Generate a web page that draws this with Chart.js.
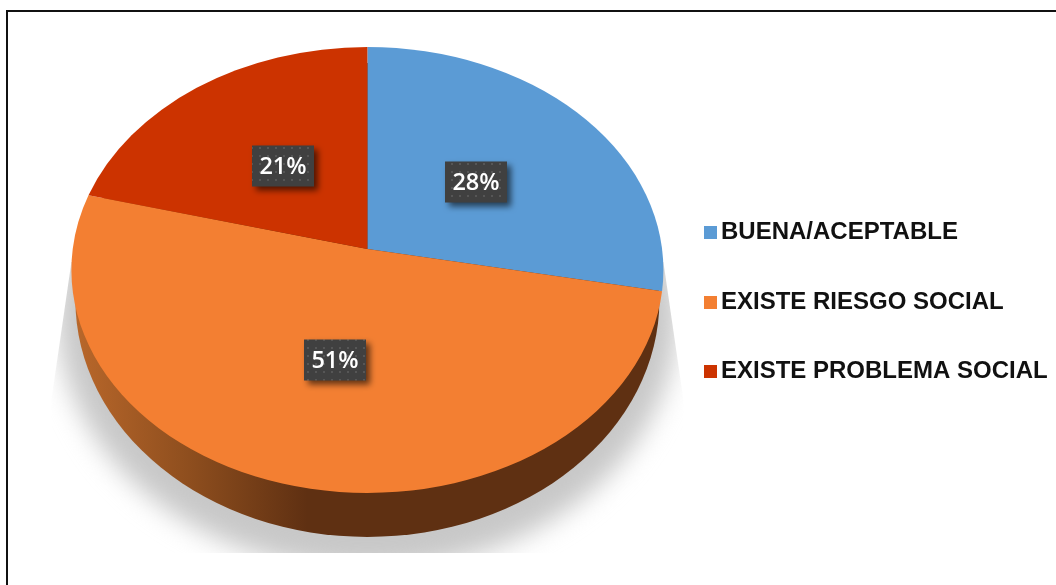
<!DOCTYPE html>
<html>
<head>
<meta charset="utf-8">
<script src="https://cdn.jsdelivr.net/npm/chart.js@4"></script>
<style>
  html, body { margin: 0; padding: 0; background: #fff; }
  canvas { display: block; }
</style>
</head>
<body>
<canvas id="pie3d" width="1056" height="585"></canvas>
<script>
// pie drawn as a tilted disc, with value tags and a legend on the right

const categories = ['BUENA/ACEPTABLE', 'EXISTE RIESGO SOCIAL', 'EXISTE PROBLEMA SOCIAL'];
const values = [28, 51, 21];
const colors = ['#5B9BD5', '#F37F32', '#CC3300'];

/* === tilt of the disc === */
const STRETCH_X = 296 / 223;  // width of the top face against its height
const TILT = -0.094;          // how far the apex sits above the middle of the ellipse
const TAG_RADIUS = 0.49;
const TAG_W = 62, TAG_H = 41;

// perspective map of the unit disc onto itself, the rim stays on the rim
function project(x, y) {
  const d = 1 + TILT * y;
  return { x: x * Math.sqrt(1 - TILT * TILT) / d, y: (y + TILT) / d };
}

function rimAngle(a) {
  const p = project(Math.cos(a), Math.sin(a));
  return Math.atan2(p.y, p.x);
}

// legend marker, padded on the left so the text can sit close to it
function makeSwatch(color) {
  const c = document.createElement('canvas');
  c.width = 17; c.height = 13;
  const g = c.getContext('2d');
  g.fillStyle = color;
  g.fillRect(4, 0, 13, 13);
  return c;
}

function makeDots(ctx) {
  const c = document.createElement('canvas');
  c.width = 8; c.height = 8;
  const g = c.getContext('2d');
  g.fillStyle = '#404040';
  g.fillRect(0, 0, 8, 8);
  g.fillStyle = '#565656';
  g.fillRect(3, 3, 2, 2);
  return ctx.createPattern(c, 'repeat');
}

/* === frame around the page === */
const framePlugin = {
  id: 'frame',
  beforeDraw(chart) {
    const { ctx, width, height } = chart;
    ctx.save();
    ctx.fillStyle = '#fff';
    ctx.fillRect(0, 0, width, height);
    ctx.fillStyle = '#111';
    ctx.fillRect(6, 10, width - 6, 2);
    ctx.fillRect(6, 10, 2, height - 10);
    ctx.restore();
  }
};

/* === legend sits lower than the layout would put it === */
const legendPlugin = {
  id: 'legendSpot',
  afterLayout(chart) {
    const lg = chart.legend;
    lg.left = 662.5;
    lg.right = chart.width;
    lg.top = 175;
    lg.bottom = chart.height;
  }
};

/* === shadow, wall, top face and tags === */
const discPlugin = {
  id: 'disc',
  beforeDatasetsDraw(chart) {
    const { ctx } = chart;
    const arcs = chart.getDatasetMeta(0).data;
    const cx = arcs[0].x, cy = arcs[0].y, ry = arcs[0].outerRadius;
    const rx = ry * STRETCH_X;

    // soft shadow, cut by straight edges at the sides and the bottom
    ctx.save();
    ctx.beginPath();
    ctx.moveTo(cx - rx, cy - 8);
    ctx.lineTo(cx - rx - 20, cy + 130);
    ctx.lineTo(cx - rx - 20, cy + ry + 60);
    ctx.lineTo(cx + rx + 20, cy + ry + 60);
    ctx.lineTo(cx + rx + 20, cy + 130);
    ctx.lineTo(cx + rx, cy - 8);
    ctx.closePath();
    ctx.clip();
    ctx.filter = 'blur(13px)';
    ctx.fillStyle = '#c8c8c8';
    ctx.beginPath();
    ctx.ellipse(cx, cy + 45, rx + 14, ry + 32, 0, 0, Math.PI * 2);
    ctx.fill();
    ctx.restore();

    // wall below the rim
    const wall = ctx.createLinearGradient(cx - rx, 0, cx - 60, 0);
    wall.addColorStop(0, '#BA682B');
    wall.addColorStop(0.5, '#8E4E1E');
    wall.addColorStop(1, '#5F3012');
    ctx.save();
    ctx.fillStyle = wall;
    ctx.beginPath();
    ctx.ellipse(cx, cy + 30, rx - 4, ry + 14, 0, 0, Math.PI * 2);
    ctx.fill();
    ctx.restore();

    // top face
    arcs.forEach((arc, i) => {
      const p = project(0, 0);
      let a0 = rimAngle(arc.startAngle);
      let a1 = rimAngle(arc.endAngle);
      while (a1 < a0) a1 += Math.PI * 2;
      ctx.save();
      ctx.fillStyle = colors[i];
      ctx.beginPath();
      ctx.moveTo(cx + p.x * rx, cy + p.y * ry);
      ctx.ellipse(cx, cy, rx, ry, 0, a0, a1);
      ctx.closePath();
      ctx.fill();
      ctx.restore();
    });

    // value tags
    const dots = makeDots(ctx);
    arcs.forEach((arc, i) => {
      const mid = (arc.startAngle + arc.endAngle) / 2;
      const p = project(Math.cos(mid) * TAG_RADIUS, Math.sin(mid) * TAG_RADIUS);
      const tx = Math.round(cx + p.x * rx + 1), ty = Math.round(cy + p.y * ry);
      ctx.save();
      ctx.shadowColor = 'rgba(0,0,0,0.6)';
      ctx.shadowOffsetX = 4;
      ctx.shadowOffsetY = 4;
      ctx.shadowBlur = 6;
      ctx.fillStyle = dots;
      ctx.fillRect(tx - TAG_W / 2, ty - TAG_H / 2, TAG_W, TAG_H);
      ctx.restore();
      ctx.save();
      ctx.fillStyle = '#fff';
      ctx.font = '600 23.5px "Open Sans"';
      ctx.textAlign = 'center';
      ctx.textBaseline = 'middle';
      ctx.fillText(`${values[i]}%`, tx, ty + 1);
      ctx.restore();
    });

    return false; // top face is done here, the plain flat arcs stay undrawn
  }
};

new Chart(document.getElementById('pie3d'), {
  type: 'pie',
  data: {
    labels: categories,
    datasets: [{ data: values, backgroundColor: colors, borderWidth: 0 }]
  },
  options: {
    responsive: false,
    animation: false,
    layout: { padding: { left: 74, top: 47, bottom: 92 } },
    plugins: {
      tooltip: { enabled: false },
      legend: {
        position: 'right',
        align: 'start',
        labels: {
          color: '#111',
          font: { family: '"Liberation Sans"', size: 24, weight: 'bold' },
          padding: 45.5,
          boxWidth: 1,
          usePointStyle: true,
          generateLabels: () => categories.map((name, i) => ({
            text: name,
            fontColor: '#111',
            pointStyle: makeSwatch(colors[i]),
            hidden: false,
            index: i
          }))
        }
      }
    }
  },
  plugins: [framePlugin, legendPlugin, discPlugin]
});
</script>
</body>
</html>
